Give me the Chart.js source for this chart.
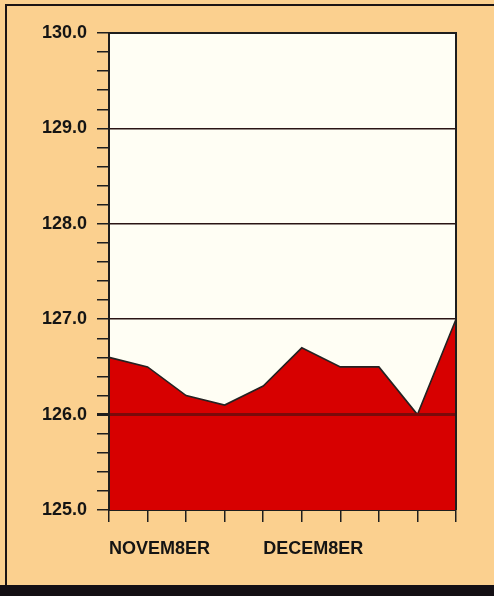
<!DOCTYPE html>
<html>
<head>
<meta charset="utf-8">
<script src="https://cdn.jsdelivr.net/npm/chart.js@4"></script>
<style>
  html, body { margin: 0; padding: 0; }
  body { width: 494px; height: 596px; background: #fbd08f; position: relative; overflow: hidden; }
  .frame { position: absolute; left: 5px; top: 4px; right: 0; bottom: 11px;
           border-left: 2px solid #1b1414; border-top: 2px solid #1b1414; }
  .band { position: absolute; left: 0; right: 0; bottom: 0; height: 11px; background: #140f14; }
  #wrap { position: absolute; left: 0; top: 0; width: 494px; height: 596px; }
</style>
</head>
<body>
<div class="frame"></div>
<div class="band"></div>
<div id="wrap"><canvas id="price-chart" width="494" height="596"></canvas></div>
<script>
'use strict';
// weekly readings, two months
const weeks = ['w1', 'w2', 'w3', 'w4', 'w5', 'w6', 'w7', 'w8', 'w9', 'w10'];
const values = [126.6, 126.5, 126.2, 126.1, 126.3, 126.7, 126.5, 126.5, 126.0, 127.0];
const monthLabels = { 0: 'NOVEM8ER', 4: 'DECEM8ER' };
const yMin = 125;
const yMax = 130;

const isWhole = v => Math.abs(v - Math.round(v)) < 1e-6;
const isBase = v => Math.abs(v - 126) < 1e-6;

// cream plot background + dark frame round the plot
const plotBox = {
  id: 'plotBox',
  beforeDraw(chart) {
    const {ctx, chartArea: a} = chart;
    ctx.save();
    ctx.fillStyle = '#fffef4';
    ctx.fillRect(a.left, a.top, a.right - a.left, a.bottom - a.top);
    ctx.restore();
  },
  afterDraw(chart) {
    const {ctx, chartArea: a} = chart;
    ctx.save();
    ctx.strokeStyle = '#1e1e1e';
    ctx.lineWidth = 2;
    ctx.beginPath();
    ctx.moveTo(a.left, a.top);
    ctx.lineTo(a.right, a.top);
    ctx.lineTo(a.right, a.bottom);
    ctx.stroke();
    ctx.restore();
  }
};

Chart.defaults.font.family = '"Liberation Sans", Arial, sans-serif';
Chart.defaults.color = '#141414';

new Chart(document.getElementById('price-chart'), {
  type: 'line',
  data: {
    labels: weeks,
    datasets: [{
      data: values,
      fill: 'start',
      backgroundColor: '#d70000',
      borderColor: '#262222',
      borderWidth: 1.6,
      pointRadius: 0,
      tension: 0
    }]
  },
  options: {
    responsive: false,
    animation: false,
    layout: { padding: { left: 0, top: 33, right: 38, bottom: 0 } },
    plugins: { legend: { display: false }, tooltip: { enabled: false } },
    scales: {
      x: {
        offset: false,
        afterFit(scale) { scale.height = 86; },
        grid: { display: true, drawOnChartArea: false, tickLength: 12, tickColor: '#1e1e1e', lineWidth: 1.5 },
        border: { color: '#1e1e1e', width: 2 },
        ticks: {
          autoSkip: false, maxRotation: 0, minRotation: 0, align: 'start', padding: 16,
          font: { size: 18, weight: 'bold' },
          callback: (v, i) => monthLabels[i] || ''
        }
      },
      y: {
        min: yMin,
        max: yMax,
        afterFit(scale) { scale.width = 109; },
        grid: {
          z: 1,
          tickLength: 12,
          tickColor: '#1e1e1e',
          lineWidth: c => isBase(c.tick.value) ? 3 : 1.5,
          color: c => {
            const v = c.tick.value;
            if (isBase(v)) return '#7a0a0a';
            return isWhole(v) && v > yMin && v < yMax ? '#2a1414' : 'rgba(0,0,0,0)';
          }
        },
        border: { z: 1, color: '#1e1e1e', width: 2 },
        ticks: {
          stepSize: 0.2, autoSkip: false, padding: 10,
          font: { size: 18, weight: 'bold' },
          callback: v => isWhole(v) ? v.toFixed(1) : ''
        }
      }
    }
  },
  plugins: [plotBox]
});
</script>
</body>
</html>
